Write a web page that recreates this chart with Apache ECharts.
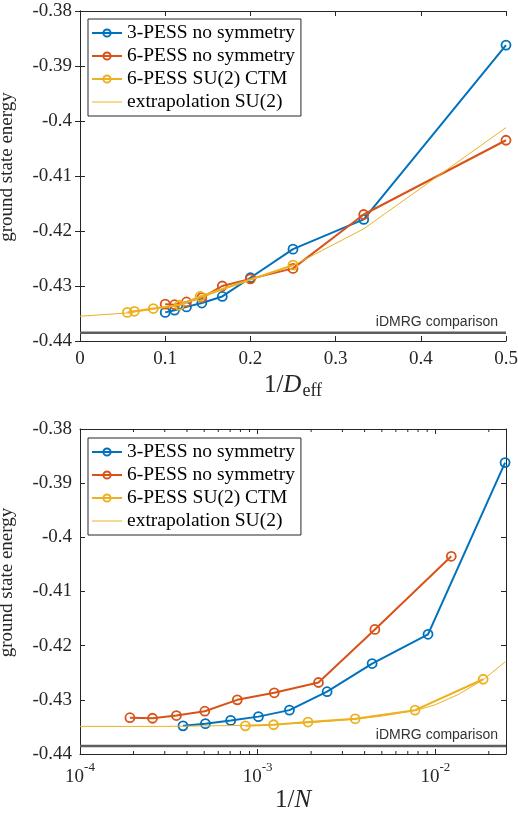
<!DOCTYPE html>
<html>
<head>
    <meta charset="utf-8">
    <title>ground state energy</title>
    <script src="https://cdn.jsdelivr.net/npm/echarts@6/dist/echarts.min.js"></script>
    <style>
        html, body { margin: 0; padding: 0; background: #fff; }
        #main { width: 518px; height: 815px; }
    </style>
</head>
<body>
<div id="main"></div>
<script>
    // ---- data ----
    var names = ['3-PESS no symmetry', '6-PESS no symmetry', '6-PESS SU(2) CTM', 'extrapolation SU(2)'];

    // 3-PESS no symmetry
    var invD3 = [0.1, 0.111, 0.125, 0.143, 0.167, 0.2, 0.25, 0.333, 0.5];
    var invN3 = [3.80e-4, 5.08e-4, 7.05e-4, 1.01e-3, 1.51e-3, 2.46e-3, 4.41e-3, 9.1e-3, 0.0247];
    var E3 = [-0.4348, -0.4344, -0.4338, -0.4331, -0.4319, -0.4285, -0.4233, -0.4179, -0.3862];

    // 6-PESS no symmetry
    var invD6 = [0.1, 0.111, 0.125, 0.143, 0.167, 0.2, 0.25, 0.333, 0.5];
    var invN6 = [1.91e-4, 2.56e-4, 3.49e-4, 5.04e-4, 7.68e-4, 1.24e-3, 2.20e-3, 4.57e-3, 0.0123];
    var E6 = [-0.4333, -0.4334, -0.4329, -0.4321, -0.4300, -0.4287, -0.4268, -0.4170, -0.4035];

    // 6-PESS SU(2) CTM
    var invDsu = [0.0556, 0.0638, 0.086, 0.1166, 0.141, 0.25];
    var invNsu = [8.53e-4, 1.23e-3, 1.92e-3, 3.54e-3, 7.69e-3, 0.0186];
    var Esu = [-0.4348, -0.4346, -0.4341, -0.4335, -0.4319, -0.4262];

    // extrapolation SU(2)
    var exInvD = [0, 0.0556, 0.0833, 0.1, 0.125, 0.143, 0.167, 0.2, 0.25, 0.333, 0.5];
    var exEd = [-0.4355, -0.4349, -0.4343, -0.4338, -0.4330, -0.4321, -0.4307, -0.4289, -0.4263, -0.4196, -0.4012];
    var exInvN = [1e-4, 3e-4, 1e-3, 2e-3, 3.5e-3, 5e-3, 7.7e-3, 0.01, 0.0135, 0.0186, 0.0247];
    var exEn = [-0.4349, -0.4349, -0.4347, -0.4342, -0.4336, -0.4330, -0.4320, -0.4309, -0.4290, -0.4263, -0.4230];

    // iDMRG reference energy
    var idmrgE = -0.4385;

    // axis ranges
    var yRange = [-0.44, -0.38];
    var dRange = [0, 0.5];
    var nRange = [1e-4, 0.025];

    // minor ticks of the log axis (2..9 times each decade)
    var logMinorTicks = [2e-4, 3e-4, 4e-4, 5e-4, 6e-4, 7e-4, 8e-4, 9e-4,
        2e-3, 3e-3, 4e-3, 5e-3, 6e-3, 7e-3, 8e-3, 9e-3, 2e-2];

    // ---- style ----
    var colors = ['#0072BD', '#D95319', '#EDB120', '#EDB120'];
    var serif = 'Liberation Serif';
    var axisCol = '#262626';
    var tickFont = 19;

    function pairs(xs, ys) {
        return xs.map(function (x, i) { return [x, ys[i]]; });
    }

    function dataSeries(k, xs, ys, xi, yi) {
        return {
            name: names[k],
            type: 'line',
            xAxisIndex: xi,
            yAxisIndex: yi,
            data: pairs(xs, ys),
            symbol: 'circle',
            symbolSize: 9,
            itemStyle: { color: 'rgba(255,255,255,0)', borderColor: colors[k], borderWidth: 1.8 },
            lineStyle: { color: colors[k], width: 2 },
            emphasis: { disabled: true },
            z: 2 + k
        };
    }

    function extrapSeries(xs, ys, xi, yi) {
        return {
            name: names[3],
            type: 'line',
            xAxisIndex: xi,
            yAxisIndex: yi,
            data: pairs(xs, ys),
            symbol: 'none',
            lineStyle: { color: colors[3], width: 1 },
            itemStyle: { color: colors[3] },
            emphasis: { disabled: true },
            z: 6
        };
    }

    // horizontal iDMRG line across the whole plot, label at the right end
    function idmrgSeries(range, xi, yi) {
        return {
            name: 'iDMRG',
            type: 'line',
            xAxisIndex: xi,
            yAxisIndex: yi,
            silent: true,
            data: [[range[0], idmrgE], [range[1], idmrgE]],
            symbol: 'none',
            lineStyle: { color: '#5e5e5e', width: 2.5 },
            itemStyle: { color: '#5e5e5e' },
            emphasis: { disabled: true },
            markLine: {
                silent: true,
                symbol: ['none', 'none'],
                data: [{ yAxis: idmrgE }],
                lineStyle: { color: 'rgba(0,0,0,0)', width: 2.5, type: 'solid' },
                label: {
                    show: true,
                    formatter: 'iDMRG comparison',
                    position: 'insideEndTop',
                    distance: [8, 12],
                    fontFamily: 'Liberation Sans',
                    fontSize: 14,
                    color: '#333'
                }
            },
            z: 1
        };
    }

    // inward minor ticks on the bottom and top edge of the log plot
    function minorTickSeries(xi, yi) {
        return {
            type: 'custom',
            xAxisIndex: xi,
            yAxisIndex: yi,
            silent: true,
            data: logMinorTicks.map(function (v) { return [v]; }),
            renderItem: function (params, api) {
                var b = api.coord([api.value(0), yRange[0]]);
                var t = api.coord([api.value(0), yRange[1]]);
                var st = { stroke: axisCol, lineWidth: 1 };
                return {
                    type: 'group',
                    children: [
                        { type: 'line', shape: { x1: b[0], y1: b[1], x2: b[0], y2: b[1] - 3 }, style: st },
                        { type: 'line', shape: { x1: t[0], y1: t[1], x2: t[0], y2: t[1] + 3 }, style: st }
                    ]
                };
            },
            z: 10
        };
    }

    function yAxes(gi) {
        var main = {
            type: 'value', gridIndex: gi, min: yRange[0], max: yRange[1], interval: 0.01,
            name: 'ground state energy', nameLocation: 'middle', nameGap: 63, nameRotate: 90,
            nameTextStyle: { fontFamily: serif, fontSize: 19, color: axisCol, padding: [0, 0, 0, 18] },
            axisLine: { show: true, lineStyle: { color: axisCol, width: 1 } },
            axisTick: { show: true, inside: true, length: 5, lineStyle: { color: axisCol } },
            axisLabel: {
                fontFamily: serif, fontSize: tickFont, color: axisCol, margin: 8,
                formatter: function (v) { return String(+v.toFixed(2)); }
            },
            splitLine: { show: false }
        };
        var mirror = {
            type: 'value', gridIndex: gi, min: yRange[0], max: yRange[1], interval: 0.01, position: 'right',
            axisLine: { show: true, lineStyle: { color: axisCol, width: 1 } },
            axisTick: { show: true, inside: true, length: 5, lineStyle: { color: axisCol } },
            axisLabel: { show: false },
            splitLine: { show: false }
        };
        return [main, mirror];
    }

    function legendFor(top) {
        return {
            data: [names[0], names[1], names[2],
                { name: names[3], icon: 'path://M0,0 L30,0 L30,1 L0,1 Z' }],
            orient: 'vertical', left: 88, top: top,
            itemWidth: 30, itemHeight: 9, itemGap: 3,
            padding: [4, 6, 4, 3],
            borderColor: axisCol, borderWidth: 1, backgroundColor: '#fff',
            textStyle: { fontFamily: serif, fontSize: 19.5, color: '#000', lineHeight: 19.5 },
            selectedMode: false
        };
    }

    var tickLine = { show: true, lineStyle: { color: axisCol, width: 1 } };

    var option = {
        animation: false,
        backgroundColor: '#fff',
        grid: [
            { left: 80, top: 11, width: 426, height: 330, outerBoundsMode: 'none', containLabel: false },
            { left: 80, top: 429, width: 426, height: 325, outerBoundsMode: 'none', containLabel: false }
        ],
        xAxis: [
            {
                type: 'value', gridIndex: 0, min: dRange[0], max: dRange[1], interval: 0.1,
                name: '{n|1/}{i|D}{s|eff}', nameLocation: 'middle', nameGap: 30,
                nameTextStyle: {
                    fontFamily: serif, fontSize: 25, color: axisCol,
                    rich: {
                        n: { fontFamily: serif, fontSize: 25, color: axisCol },
                        i: { fontFamily: serif, fontSize: 25, fontStyle: 'italic', color: axisCol },
                        s: { fontFamily: serif, fontSize: 18, color: axisCol, padding: [11, 0, 0, 1] }
                    }
                },
                axisLine: tickLine,
                axisTick: { show: true, inside: true, length: 5, lineStyle: { color: axisCol } },
                axisLabel: { fontFamily: serif, fontSize: tickFont, color: axisCol, margin: 9 },
                splitLine: { show: false }
            },
            {
                type: 'value', gridIndex: 0, min: dRange[0], max: dRange[1], interval: 0.1, position: 'top',
                axisLine: tickLine,
                axisTick: { show: true, inside: true, length: 5, lineStyle: { color: axisCol } },
                axisLabel: { show: false },
                splitLine: { show: false }
            },
            {
                type: 'log', logBase: 10, gridIndex: 1, min: nRange[0], max: nRange[1], interval: 1,
                name: '{n|1/}{i|N}', nameLocation: 'middle', nameGap: 33,
                nameTextStyle: {
                    fontFamily: serif, fontSize: 25, color: axisCol,
                    rich: {
                        n: { fontFamily: serif, fontSize: 25, color: axisCol },
                        i: { fontFamily: serif, fontSize: 25, fontStyle: 'italic', color: axisCol }
                    }
                },
                axisLine: tickLine,
                axisTick: { show: true, inside: true, length: 5, lineStyle: { color: axisCol } },
                axisLabel: {
                    fontFamily: serif, fontSize: tickFont, color: axisCol, margin: 6, showMaxLabel: false,
                    formatter: function (v) {
                        return '{b|10}{e|' + Math.round(Math.log10(v)) + '}';
                    },
                    rich: {
                        b: { fontFamily: serif, fontSize: tickFont, color: axisCol, padding: [8, 0, 0, 0] },
                        e: { fontFamily: serif, fontSize: 13, color: axisCol, padding: [0, 0, 11, 0] }
                    }
                },
                splitLine: { show: false }
            },
            {
                type: 'log', logBase: 10, gridIndex: 1, min: nRange[0], max: nRange[1], interval: 1, position: 'top',
                axisLine: tickLine,
                axisTick: { show: true, inside: true, length: 5, lineStyle: { color: axisCol } },
                axisLabel: { show: false },
                splitLine: { show: false }
            }
        ],
        yAxis: yAxes(0).concat(yAxes(1)),
        legend: [legendFor(19), legendFor(438)],
        series: [
            idmrgSeries(dRange, 0, 0),
            dataSeries(0, invD3, E3, 0, 0),
            dataSeries(1, invD6, E6, 0, 0),
            dataSeries(2, invDsu, Esu, 0, 0),
            extrapSeries(exInvD, exEd, 0, 0),
            idmrgSeries(nRange, 2, 2),
            dataSeries(0, invN3, E3, 2, 2),
            dataSeries(1, invN6, E6, 2, 2),
            dataSeries(2, invNsu, Esu, 2, 2),
            extrapSeries(exInvN, exEn, 2, 2),
            minorTickSeries(2, 2)
        ]
    };

    var myChart = echarts.init(document.getElementById('main'));
    myChart.setOption(option);
</script>
</body>
</html>
